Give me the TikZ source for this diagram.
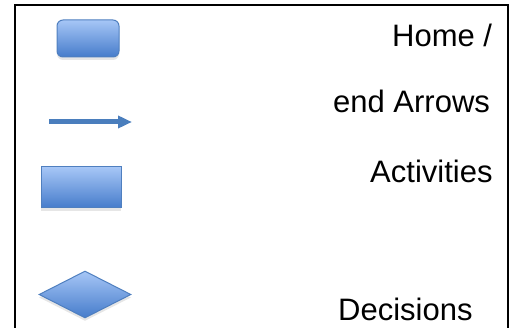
\documentclass[tikz,border=0pt]{standalone}
\usepackage{fontspec}
\setmainfont{Liberation Sans}
\usepackage{tikz}
\usetikzlibrary{shapes.geometric, arrows.meta, shadows}
\definecolor{cTop}{HTML}{A6C6F6}
\definecolor{cBot}{HTML}{467CCB}
\definecolor{cEdge}{HTML}{4F7FBF}
\definecolor{cArrow}{HTML}{4A7EBD}
\tikzset{
  shp/.style={
    draw=cEdge, line width=1pt, shading=axis,
    top color=cTop, bottom color=cBot, inner sep=0pt,
    drop shadow={shadow xshift=0pt, shadow yshift=-3pt, opacity=0.2}
  },
  homebox/.style={shp, rectangle, rounded corners=6pt,
    minimum width=62pt, minimum height=37pt},
  actbox/.style={shp, rectangle,
    minimum width=80pt, minimum height=41pt},
  decbox/.style={shp, diamond,
    minimum width=92pt, minimum height=47pt},
  arrow/.style={-{Triangle[length=14pt, width=12pt]}, line width=5pt, cArrow},
  legtext/.style={font=\fontsize{31}{36}\selectfont, anchor=base west, inner sep=0pt},
}
\begin{document}
\begin{tikzpicture}[x=1pt, y=-1pt]

  \useasboundingbox (0,0) rectangle (511,328);
  \clip (0,0) rectangle (511,328);

  % Frame
  \draw[line width=2pt] (15,340) |- (508,5) -- (508,340);

  % Shapes
  \node[homebox] (home) at (88,38.5) {};
  \coordinate (arrs) at (49,122);
  \coordinate (arre) at (132,122);
  \draw[arrow] (arrs) -- (arre);
  \node[actbox] (act) at (81,187.5) {};
  \node[decbox] (dec) at (85,294.5) {};

  % Labels
  \node[legtext] (lhome) at (392,47) {Home /};
  \node[legtext] (larr) at (333,113) {end Arrows};
  \node[legtext] (lact) at (370,183) {Activities};
  \node[legtext] (ldec) at (338,321) {Decisions};

\end{tikzpicture}
\end{document}
